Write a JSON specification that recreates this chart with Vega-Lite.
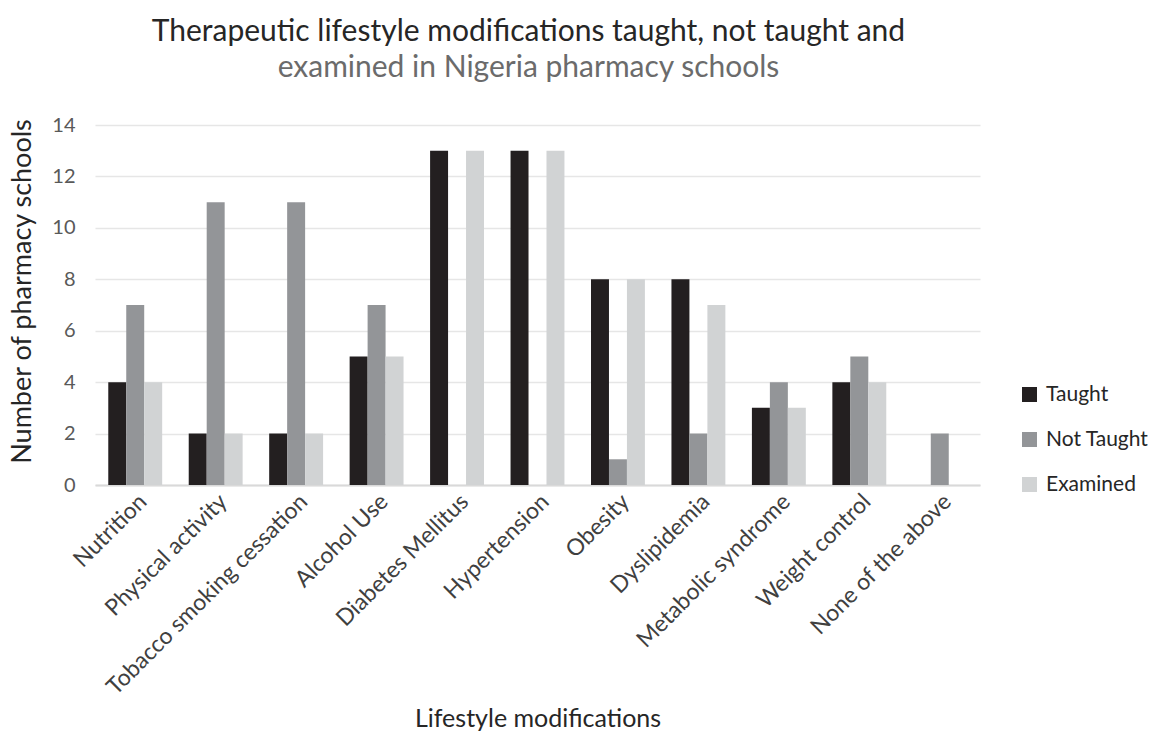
{
  "$schema": "https://vega.github.io/schema/vega-lite/v6.json",
  "width": 885,
  "height": 360,
  "autosize": {"type": "none"},
  "padding": {"left": 95, "top": 125, "right": 184, "bottom": 249},
  "background": "white",
  "title": {
    "text": "Therapeutic lifestyle modifications taught, not taught and",
    "subtitle": "examined in Nigeria pharmacy schools",
    "font": "Lato",
    "fontSize": 30,
    "fontWeight": "normal",
    "color": "#262626",
    "subtitleFont": "Lato",
    "subtitleFontSize": 30,
    "subtitleColor": "#6b6b6b",
    "subtitlePadding": 6,
    "anchor": "middle",
    "dx": -9,
    "offset": 32
  },
  "data": {
    "values": [
      {"category": "Nutrition", "series": "Taught", "value": 4},
      {"category": "Nutrition", "series": "Not Taught", "value": 7},
      {"category": "Nutrition", "series": "Examined", "value": 4},
      {"category": "Physical activity", "series": "Taught", "value": 2},
      {"category": "Physical activity", "series": "Not Taught", "value": 11},
      {"category": "Physical activity", "series": "Examined", "value": 2},
      {"category": "Tobacco smoking cessation", "series": "Taught", "value": 2},
      {"category": "Tobacco smoking cessation", "series": "Not Taught", "value": 11},
      {"category": "Tobacco smoking cessation", "series": "Examined", "value": 2},
      {"category": "Alcohol Use", "series": "Taught", "value": 5},
      {"category": "Alcohol Use", "series": "Not Taught", "value": 7},
      {"category": "Alcohol Use", "series": "Examined", "value": 5},
      {"category": "Diabetes Mellitus", "series": "Taught", "value": 13},
      {"category": "Diabetes Mellitus", "series": "Not Taught", "value": 0},
      {"category": "Diabetes Mellitus", "series": "Examined", "value": 13},
      {"category": "Hypertension", "series": "Taught", "value": 13},
      {"category": "Hypertension", "series": "Not Taught", "value": 0},
      {"category": "Hypertension", "series": "Examined", "value": 13},
      {"category": "Obesity", "series": "Taught", "value": 8},
      {"category": "Obesity", "series": "Not Taught", "value": 1},
      {"category": "Obesity", "series": "Examined", "value": 8},
      {"category": "Dyslipidemia", "series": "Taught", "value": 8},
      {"category": "Dyslipidemia", "series": "Not Taught", "value": 2},
      {"category": "Dyslipidemia", "series": "Examined", "value": 7},
      {"category": "Metabolic syndrome", "series": "Taught", "value": 3},
      {"category": "Metabolic syndrome", "series": "Not Taught", "value": 4},
      {"category": "Metabolic syndrome", "series": "Examined", "value": 3},
      {"category": "Weight control", "series": "Taught", "value": 4},
      {"category": "Weight control", "series": "Not Taught", "value": 5},
      {"category": "Weight control", "series": "Examined", "value": 4},
      {"category": "None of the above", "series": "Taught", "value": 0},
      {"category": "None of the above", "series": "Not Taught", "value": 2},
      {"category": "None of the above", "series": "Examined", "value": 0}
    ]
  },
  "mark": {"type": "bar"},
  "encoding": {
    "x": {
      "field": "category",
      "type": "nominal",
      "sort": null,
      "scale": {"paddingInner": 0.33, "paddingOuter": 0.165},
      "axis": {
        "title": "Lifestyle modifications",
        "titleFont": "Lato",
        "titleFontSize": 25,
        "titleFontWeight": "normal",
        "titleColor": "#262626",
        "titlePadding": 21,
        "labelFont": "Lato",
        "labelFontSize": 23,
        "labelColor": "#404040",
        "labelAngle": -45,
        "labelAlign": "right",
        "labelBaseline": "top",
        "labelPadding": 5,
        "labelOverlap": false,
        "ticks": false,
        "domainColor": "#d9d9d9",
        "domainWidth": 2,
        "labelLimit": 400
      }
    },
    "xOffset": {
      "field": "series",
      "type": "nominal",
      "sort": ["Taught", "Not Taught", "Examined"],
      "scale": {"paddingInner": 0, "paddingOuter": 0}
    },
    "y": {
      "field": "value",
      "type": "quantitative",
      "scale": {"domain": [0, 14], "nice": false},
      "axis": {
        "title": "Number of pharmacy schools",
        "titleFont": "Lato",
        "titleFontSize": 27,
        "titleFontWeight": "normal",
        "titleColor": "#262626",
        "titlePadding": 15,
        "titleY": 166,
        "labelFont": "Lato",
        "labelFontSize": 20,
        "labelColor": "#595959",
        "labelPadding": 20,
        "labelOverlap": false,
        "values": [0, 2, 4, 6, 8, 10, 12, 14],
        "ticks": false,
        "domain": false,
        "gridColor": "#e6e6e6",
        "gridWidth": 1.5
      }
    },
    "color": {
      "field": "series",
      "type": "nominal",
      "sort": ["Taught", "Not Taught", "Examined"],
      "scale": {
        "domain": ["Taught", "Not Taught", "Examined"],
        "range": ["#231f20", "#939598", "#d1d3d4"]
      },
      "legend": {
        "title": null,
        "orient": "none",
        "legendX": 924,
        "legendY": 259,
        "symbolType": "square",
        "symbolSize": 225,
        "symbolStrokeWidth": 0,
        "labelFont": "Lato",
        "labelFontSize": 21,
        "labelColor": "#262626",
        "rowPadding": 23,
        "labelOffset": 6
      }
    }
  },
  "config": {
    "view": {"stroke": null}
  }
}
